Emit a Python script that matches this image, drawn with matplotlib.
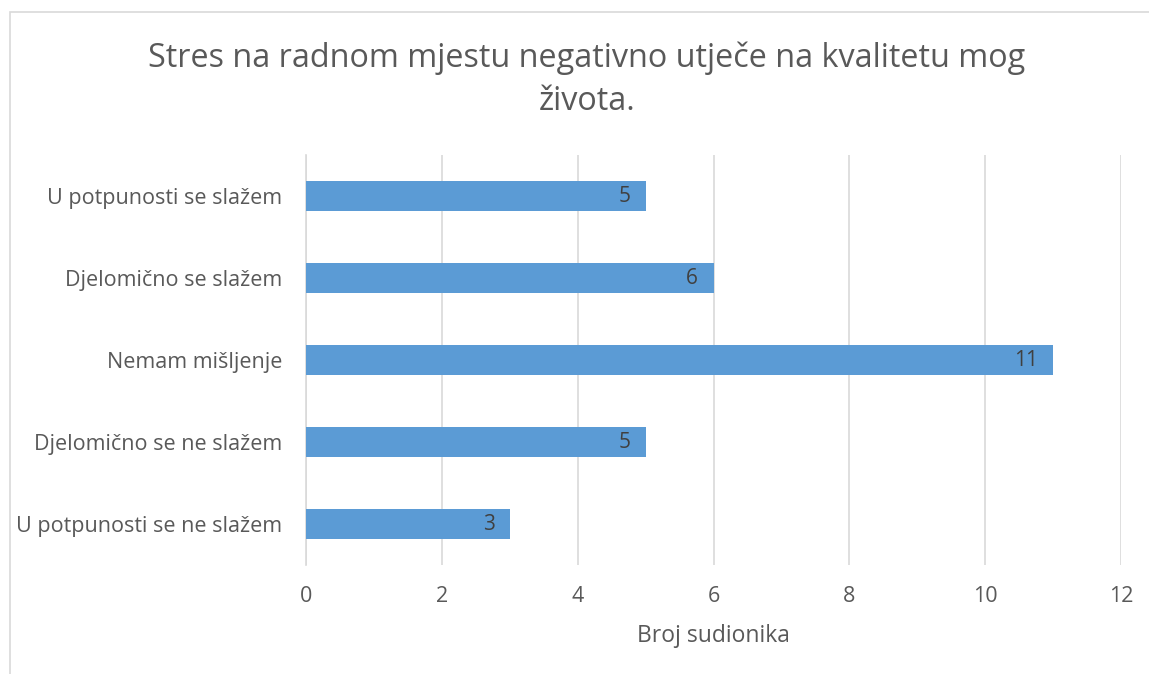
import matplotlib.pyplot as plt
from matplotlib.patches import Rectangle

categories = ['U potpunosti se ne slažem', 'Djelomično se ne slažem', 'Nemam mišljenje',
              'Djelomično se slažem', 'U potpunosti se slažem']
counts = [3, 5, 11, 6, 5]
xticks = [0, 2, 4, 6, 8, 10, 12]

plt.rcParams['font.family'] = ['Open Sans', 'DejaVu Sans']
grey = '#595959'

fig = plt.figure(figsize=(11.49, 6.74), dpi=100)
W, H = 1149, 674
ax = fig.add_axes([306 / W, 1 - 565 / H, (1121 - 306) / W, (565 - 155) / H])

# outer chart frame
fig.patches.append(Rectangle((10 / W, -0.01), 1.2, 1 - 12 / H + 0.01, transform=fig.transFigure,
                             fill=False, edgecolor='#d9d9d9', linewidth=1.2))

ypos = range(len(categories))
bars = ax.barh(ypos, counts, height=0.36, color='#5b9bd5', zorder=3)
for y, v in zip(ypos, counts):
    ax.annotate(str(v), (v, y), xytext=(-11, 0), textcoords='offset points',
                ha='right', va='center', fontsize=15, color='#404040', zorder=4)

ax.set_xlim(0, 12)
ax.set_ylim(-0.5, 4.5)
ax.set_xticks(xticks)
ax.set_yticks(list(ypos))
ax.set_yticklabels(categories)
ax.tick_params(axis='both', length=0, colors=grey, labelsize=15.5)
ax.tick_params(axis='x', pad=15)
ax.tick_params(axis='y', pad=17)
ax.grid(axis='x', color='#d9d9d9', linewidth=1.2, zorder=0)
for s in ['top', 'right', 'bottom']:
    ax.spines[s].set_visible(False)
ax.spines['left'].set_color('#d9d9d9')
ax.spines['left'].set_linewidth(1.2)

ax.set_xlabel('Broj sudionika', fontsize=16.5, color=grey, labelpad=12)
fig.text(587 / W, 1 - 80 / H,
         'Stres na radnom mjestu negativno utječe na kvalitetu mog\nživota.',
         ha='center', va='center', fontsize=23.3, color=grey, linespacing=1.4)

fig.savefig('out.png', dpi=100, facecolor='white')
